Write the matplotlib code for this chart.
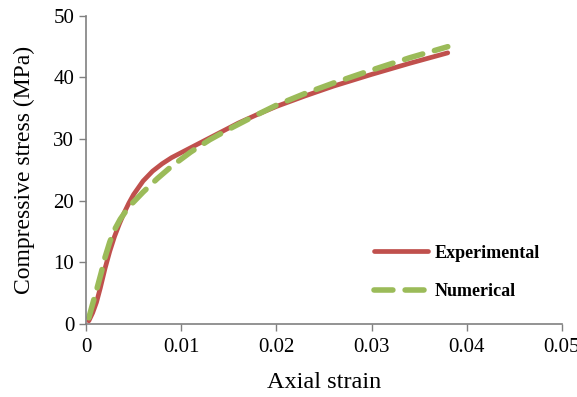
"""
Compressive stress vs axial strain: experimental and numerical curves.
"""

import matplotlib
matplotlib.use('Agg')
import matplotlib.pyplot as plt

# values
exp_strain = [0.0003, 0.0007, 0.0011, 0.0015, 0.002, 0.0025, 0.003, 0.0035,
              0.004, 0.0045, 0.005, 0.006, 0.007, 0.008, 0.009, 0.010,
              0.012, 0.014, 0.016, 0.018, 0.020, 0.023, 0.026, 0.030,
              0.034, 0.038]
exp_stress = [0.5, 1.8, 3.5, 5.8, 9.0, 11.8, 14.2, 16.2,
              18.0, 19.6, 21.0, 23.2, 24.8, 26.0, 27.0, 27.8,
              29.4, 31.0, 32.6, 34.0, 35.3, 37.0, 38.6, 40.5,
              42.3, 44.0]

num_strain = [0.0003, 0.0008, 0.0012, 0.0016, 0.002, 0.0025, 0.003, 0.0036,
              0.0045, 0.006, 0.0075, 0.009, 0.011, 0.013, 0.015, 0.0175,
              0.020, 0.023, 0.026, 0.030, 0.034, 0.038]
num_stress = [1.0, 3.8, 6.0, 8.3, 10.8, 13.3, 15.3, 17.0,
              19.0, 21.4, 23.6, 25.6, 27.9, 29.9, 31.6, 33.6,
              35.5, 37.4, 39.1, 41.2, 43.2, 45.0]

x_ticks = [0, 0.01, 0.02, 0.03, 0.04, 0.05]
x_labels = ['0', '0.01', '0.02', '0.03', '0.04', '0.05']
y_ticks = [0, 10, 20, 30, 40, 50]


def main():
    plt.rcParams['font.family'] = ['Liberation Serif', 'DejaVu Serif']

    fig = plt.figure(figsize=(5.77, 3.97), dpi=100)
    ax = fig.add_axes([0.149, 0.184, 0.825, 0.776])

    ax.plot(exp_strain, exp_stress, color='#c0504d', lw=3.4,
            solid_capstyle='round', solid_joinstyle='round',
            label='Experimental')
    ax.plot(num_strain, num_stress, color='#9bbb59', lw=4,
            dashes=(3.4, 2.2), dash_capstyle='round', dash_joinstyle='round',
            label='Numerical')

    ax.set_xlim(0, 0.05)
    ax.set_ylim(0, 50)
    ax.set_xticks(x_ticks)
    ax.set_xticklabels(x_labels)
    ax.set_yticks(y_ticks)
    ax.tick_params(labelsize=15, colors='black', length=5, width=1)
    ax.tick_params(axis='x', pad=5)

    for side in ['top', 'right']:
        ax.spines[side].set_visible(False)
    for side in ['left', 'bottom']:
        ax.spines[side].set_color('#808080')
        ax.spines[side].set_linewidth(1.2)
    ax.tick_params(color='#808080')

    ax.set_xlabel('Axial strain', fontsize=17.5, labelpad=11)
    ax.set_ylabel('Compressive stress (MPa)', fontsize=17, labelpad=13)

    ax.legend(loc='upper left', bbox_to_anchor=(0.57, 0.31), frameon=False,
              prop={'weight': 'bold', 'size': 13}, handlelength=3.0,
              labelspacing=1.2, handletextpad=0.4)

    fig.savefig('out.png', dpi=100)


if __name__ == '__main__':
    main()
